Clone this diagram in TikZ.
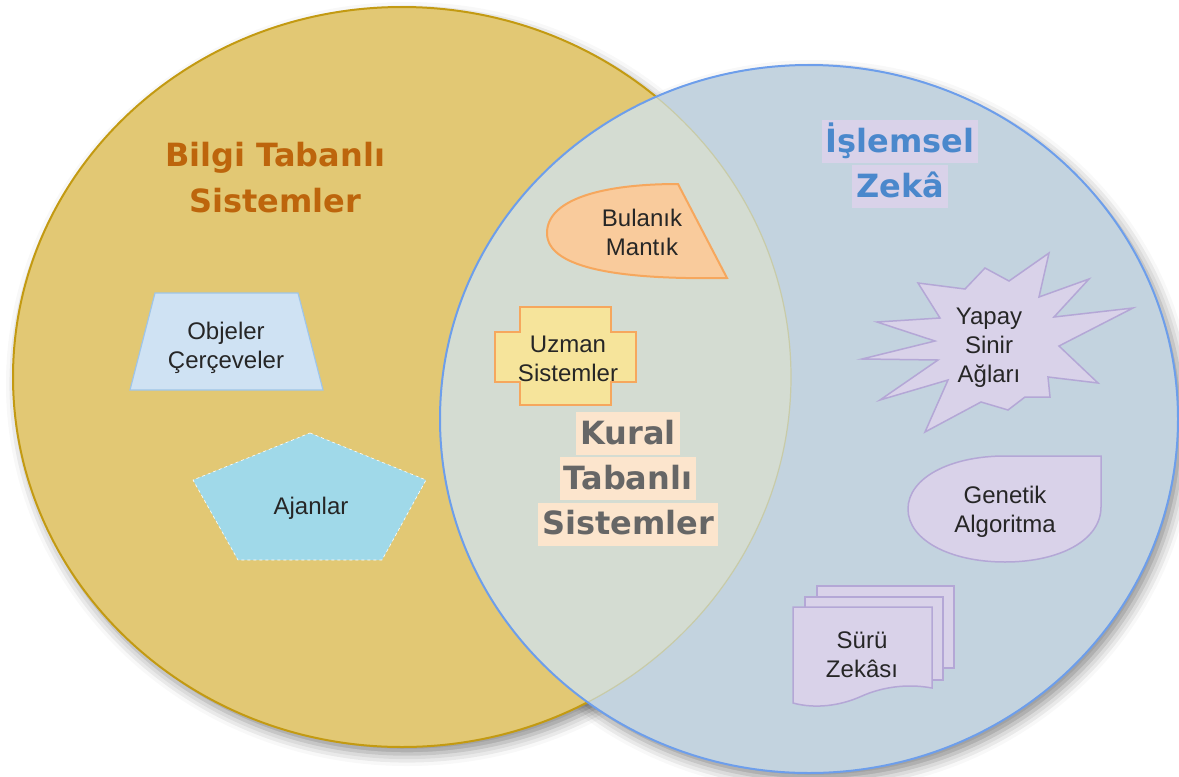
\documentclass[tikz,border=0pt]{standalone}
\usepackage{fontspec}
\setmainfont{Liberation Sans}
\newfontfamily\headfont{DejaVu Sans}
\usetikzlibrary{positioning,shadows.blur}

\definecolor{bilgiFill}{HTML}{E2C874}
\definecolor{bilgiLine}{HTML}{C39A12}
\definecolor{zekaFill}{HTML}{C3D3DF}
\definecolor{zekaLine}{HTML}{6D9EEB}
\definecolor{ortakFill}{HTML}{D4DCD2}
\definecolor{ortakLine}{HTML}{C8CBA8}
\definecolor{bilgiText}{HTML}{BD650C}
\definecolor{zekaText}{HTML}{4A88CC}
\definecolor{zekaBg}{HTML}{D9D2E9}
\definecolor{kuralText}{HTML}{666666}
\definecolor{kuralBg}{HTML}{FCE5CD}
\definecolor{moruFill}{HTML}{D9D2E9}
\definecolor{moruLine}{HTML}{B4A7D6}
\definecolor{turuncuFill}{HTML}{F9CB9C}
\definecolor{turuncuLine}{HTML}{F6A75D}
\definecolor{sariFill}{HTML}{F6E49B}
\definecolor{maviFill}{HTML}{CFE2F3}
\definecolor{maviLine}{HTML}{9FC5E8}
\definecolor{ajanFill}{HTML}{A0D9E9}

\tikzset{
  lbl/.style={font=\fontsize{24}{29}\selectfont, align=center, text=black!85},
  baslik/.style={font=\headfont\bfseries\fontsize{32}{46}\selectfont, align=center},
  kutu/.style={baslik, inner xsep=4pt, inner ysep=0pt, text height=32pt, text depth=11pt},
  kural/.style={kutu, fill=kuralBg, text=kuralText},
  zeka/.style={kutu, fill=zekaBg, text=zekaText},
  moru/.style={draw=moruLine, fill=moruFill, line width=1.5pt},
  turuncu/.style={draw=turuncuLine, line width=2pt},
  golge/.style={blur shadow={shadow xshift=5pt, shadow yshift=-7pt, shadow blur radius=12pt, shadow opacity=45}},
}

\begin{document}
\begin{tikzpicture}[x=1pt,y=-1pt]

\newcommand\KALIN{2pt}
\newcommand\INCE{1.2pt}

\useasboundingbox (0,0) rectangle (1179,777);

\coordinate (bilgiM) at (402,377);
\coordinate (zekaM) at (809,419);

%% golgeler
\path[golge] (bilgiM) ellipse [x radius=389, y radius=370];
\path[golge] (zekaM) ellipse [x radius=369, y radius=354];

%% iki daire
\draw[bilgiLine, line width=\KALIN, fill=bilgiFill] (bilgiM) ellipse [x radius=389, y radius=370];
\fill[zekaFill] (zekaM) ellipse [x radius=369, y radius=354];

\begin{scope}
\clip (bilgiM) ellipse [x radius=389, y radius=370];
\fill[ortakFill] (zekaM) ellipse [x radius=369, y radius=354];
\end{scope}

\begin{scope}
\clip (zekaM) ellipse [x radius=369, y radius=354];
\draw[ortakLine, line width=\INCE] (bilgiM) ellipse [x radius=389, y radius=370];
\end{scope}

\draw[zekaLine, line width=\KALIN] (zekaM) ellipse [x radius=369, y radius=354];

%% basliklar
\node[baslik, text=bilgiText] (bilgi) at (275,178) {Bilgi Tabanlı\\Sistemler};

\node[zeka] (islem1) at (900,141.5) {İşlemsel};
\node[zeka, below=2pt of islem1] (islem2) {Zekâ};

\node[kural] (kural1) at (628,433.5) {Kural};
\node[kural, below=2pt of kural1] (kural2) {Tabanlı};
\node[kural, below=2pt of kural2] (kural3) {Sistemler};

%% sol taraf
\draw[draw=maviLine, fill=maviFill, line width=\INCE] (155,293) -- (298,293) -- (323,390) -- (130,390) -- cycle;
\node[lbl] (objeler) at (226,348) {Objeler\\Çerçeveler};

\draw[draw=white, dashed, line width=0.6pt, fill=ajanFill] (310,433) -- (426,480) -- (382,560) -- (238,560) -- (193,480) -- cycle;
\node[lbl] (ajanlar) at (311,508) {Ajanlar};

%% ortak bolge
\draw[turuncu, fill=turuncuFill] (678,184) -- (727,278) .. controls (610,280) and (547,266) .. (547,233) .. controls (547,200) and (600,184) .. (678,184) -- cycle;
\node[lbl] (bulanik) at (642,232) {Bulanık\\Mantık};

\draw[turuncu, fill=sariFill] (520,307) -- (611,307) -- (611,332) -- (636,332) -- (636,382) -- (611,382) -- (611,405) -- (520,405) -- (520,382) -- (495,382) -- (495,332) -- (520,332) -- cycle;
\node[lbl] (uzman) at (568,358.5) {Uzman\\Sistemler};

%% sag taraf
\draw[moru] (1049,253) -- (1039,297) -- (1089,279) -- (1054,317) -- (1133,308) -- (1059,346) -- (1098,383) -- (1048,377) -- (1050,397) -- (1025,397) -- (1008,410) -- (981,402) -- (925,432) -- (948,380) -- (880,400) -- (938,360) -- (862,359) -- (935,341) -- (877,322) -- (940,318) -- (918,283) -- (965,289) -- (985,268) -- (1009,281) -- cycle;
\node[lbl] (yapay) at (989,348) {Yapay\\Sinir\\Ağları};

\draw[moru] (1101,456) -- (1101,507) .. controls (1101,540) and (1060,562) .. (1005,562) .. controls (950,562) and (908,540) .. (908,509) .. controls (908,478) and (950,456) .. (1005,456) -- cycle;
\node[lbl] (genetik) at (1005,512) {Genetik\\Algoritma};

\draw[moru] (817,586) rectangle (954,668);
\draw[moru] (805,597) rectangle (943,680);
\draw[moru] (793,607) -- (932,607) -- (932,688) .. controls (905,683) and (880,688) .. (862,696) .. controls (840,706) and (815,709) .. (793,703) -- cycle;
\node[lbl] (suru) at (862,655) {Sürü\\Zekâsı};

\end{tikzpicture}
\end{document}
